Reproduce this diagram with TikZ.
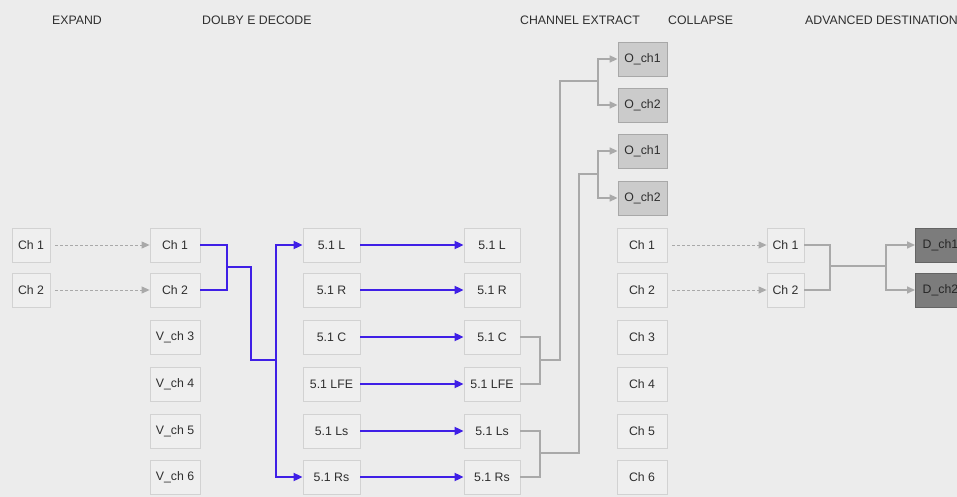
\documentclass[tikz,border=0pt]{standalone}
\usepackage{fontspec}
\setmainfont{Liberation Sans}
\usetikzlibrary{arrows.meta}
\definecolor{bg}{HTML}{ECECEC}
\definecolor{boxfill}{HTML}{EFEFEF}
\definecolor{boxline}{HTML}{D2D2D2}
\definecolor{ofill}{HTML}{CBCBCB}
\definecolor{oline}{HTML}{A8A8A8}
\definecolor{dfill}{HTML}{7C7C7C}
\definecolor{dline}{HTML}{646464}
\definecolor{txt}{HTML}{2E2E2E}
\definecolor{bluel}{HTML}{3F1FE6}
\definecolor{grayl}{HTML}{A9A9A9}
\begin{document}
\begin{tikzpicture}[x=1pt,y=-1pt,
  box/.style={draw=boxline,fill=boxfill,line width=0.8pt,minimum height=34pt,inner sep=0pt,
    text=txt,font=\fontsize{12.3}{14}\selectfont},
  obox/.style={box,draw=oline,fill=ofill,minimum width=49pt},
  dbox/.style={box,draw=dline,fill=dfill,minimum width=50pt,text=black!85},
  hdr/.style={anchor=west,text=txt,font=\fontsize{12.3}{14}\selectfont,inner sep=0pt},
  bl/.style={draw=bluel,line width=1.8pt},
  bla/.style={bl,-{Triangle[length=9pt,width=8pt]}},
  gl/.style={draw=grayl,line width=1.6pt},
  gla/.style={gl,-{Triangle[length=8pt,width=7pt]}},
  dl/.style={draw=grayl,line width=1pt,dash pattern=on 3pt off 2pt,
    -{Triangle[length=8pt,width=7pt]},shorten <=5pt}]
\useasboundingbox (0,0) rectangle (957,497);
\fill[bg] (0,0) rectangle (957,497);
\clip (0,0) rectangle (957,497);
% headers
\node[hdr] (h1) at (52,20) {EXPAND};
\node[hdr] (h2) at (202,20) {DOLBY E DECODE};
\node[hdr] (h3) at (520,20) {CHANNEL EXTRACT};
\node[hdr] (h4) at (668,20) {COLLAPSE};
\node[hdr] (h5) at (805,20) {ADVANCED DESTINATION};
% column 1
\node[box,minimum width=38pt] (e1) at (31,245) {Ch 1};
\node[box,minimum width=38pt] (e2) at (31,290) {Ch 2};
% column 2
\node[box,minimum width=50pt] (d1) at (175,245) {Ch 1};
\node[box,minimum width=50pt] (d2) at (175,290) {Ch 2};
\node[box,minimum width=50pt] (d3) at (175,337) {V\_ch 3};
\node[box,minimum width=50pt] (d4) at (175,384) {V\_ch 4};
\node[box,minimum width=50pt] (d5) at (175,431) {V\_ch 5};
\node[box,minimum width=50pt] (d6) at (175,477) {V\_ch 6};
% column 3
\node[box,minimum width=57pt] (l1) at (331.5,245) {5.1 L};
\node[box,minimum width=57pt] (l2) at (331.5,290) {5.1 R};
\node[box,minimum width=57pt] (l3) at (331.5,337) {5.1 C};
\node[box,minimum width=57pt] (l4) at (331.5,384) {5.1 LFE};
\node[box,minimum width=57pt] (l5) at (331.5,431) {5.1 Ls};
\node[box,minimum width=57pt] (l6) at (331.5,477) {5.1 Rs};
% column 4
\node[box,minimum width=56pt] (m1) at (492,245) {5.1 L};
\node[box,minimum width=56pt] (m2) at (492,290) {5.1 R};
\node[box,minimum width=56pt] (m3) at (492,337) {5.1 C};
\node[box,minimum width=56pt] (m4) at (492,384) {5.1 LFE};
\node[box,minimum width=56pt] (m5) at (492,431) {5.1 Ls};
\node[box,minimum width=56pt] (m6) at (492,477) {5.1 Rs};
% O boxes
\node[obox] (o1) at (642.5,59) {O\_ch1};
\node[obox] (o2) at (642.5,105) {O\_ch2};
\node[obox] (o3) at (642.5,151) {O\_ch1};
\node[obox] (o4) at (642.5,198) {O\_ch2};
% column 5
\node[box,minimum width=50pt] (c1) at (642,245) {Ch 1};
\node[box,minimum width=50pt] (c2) at (642,290) {Ch 2};
\node[box,minimum width=50pt] (c3) at (642,337) {Ch 3};
\node[box,minimum width=50pt] (c4) at (642,384) {Ch 4};
\node[box,minimum width=50pt] (c5) at (642,431) {Ch 5};
\node[box,minimum width=50pt] (c6) at (642,477) {Ch 6};
% column 6
\node[box,minimum width=37pt] (f1) at (785.5,245) {Ch 1};
\node[box,minimum width=37pt] (f2) at (785.5,290) {Ch 2};
% D boxes
\node[dbox,anchor=west] (x1) at (915,245) {D\_ch1};
\node[dbox,anchor=west] (x2) at (915,290) {D\_ch2};
% junction coordinates
\coordinate (jA) at (227,267);
\coordinate (jB) at (251,267);
\coordinate (jC) at (276,360);
\coordinate (g1) at (540,360);
\coordinate (g1u) at (560,81);
\coordinate (g1s) at (598,81);
\coordinate (g2) at (540,453);
\coordinate (g2u) at (579,174);
\coordinate (g2s) at (598,174);
\coordinate (k1) at (830,266);
\coordinate (k2) at (886,266);
% dashed
\draw[dl] (e1) -- (d1);
\draw[dl] (e2) -- (d2);
\draw[dl] (c1) -- (f1);
\draw[dl] (c2) -- (f2);
% blue
\draw[bl] (d1.east) -| (jA) |- (d2.east);
\draw[bl] (jA) -- (jB) |- (jC);
\draw[bla] (jC) |- (l1.west);
\draw[bla] (jC) |- (l6.west);
\foreach \i in {1,...,6} { \draw[bla] (l\i) -- (m\i); }
% gray
\draw[gl] (m3.east) -| (g1) |- (m4.east);
\draw[gl] (g1) -| (g1u) -- (g1s);
\draw[gla] (g1s) |- (o1.west);
\draw[gla] (g1s) |- (o2.west);
\draw[gl] (m5.east) -| (g2) |- (m6.east);
\draw[gl] (g2) -| (g2u) -- (g2s);
\draw[gla] (g2s) |- (o3.west);
\draw[gla] (g2s) |- (o4.west);
\draw[gl] (f1.east) -| (k1) |- (f2.east);
\draw[gl] (k1) -- (k2);
\draw[gla] (k2) |- (x1.west);
\draw[gla] (k2) |- (x2.west);
\end{tikzpicture}
\end{document}
